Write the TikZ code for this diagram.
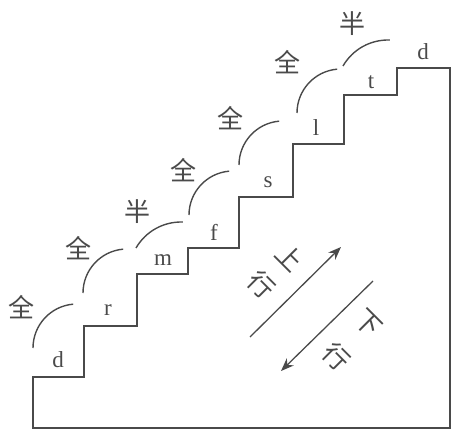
\documentclass[tikz,border=0pt]{standalone}
\usepackage{fontspec}
\newfontfamily\cjk{Noto Sans CJK SC}
\newfontfamily\lat{Liberation Serif}
\usetikzlibrary{arrows.meta}
\definecolor{ink}{HTML}{4A4A4A}
\tikzset{wall/.style={draw=ink,line width=1.5pt,line join=miter},bow/.style={draw=ink,line width=1.4pt},
zh/.style={text=ink,font=\cjk\fontsize{26}{26}\selectfont,inner sep=0pt},
lt/.style={text=ink,font=\lat\fontsize{23}{23}\selectfont,inner sep=0pt},
arr/.style={-{Stealth[length=13pt,width=10pt]},draw=ink,line width=1.3pt}}
\begin{document}
\begin{tikzpicture}[x=1pt,y=1pt]
\useasboundingbox(0,0)rectangle(452,429);
% stairs
\draw[wall](33,1)--(33,52)--(84,52)--(84,103)--(137,103)--(137,155)--(188,155)--(188,181)--(239,181)--(239,232)
--(293,232)--(293,285)--(344,285)--(344,334)--(397,334)--(397,361)--(450,361)--(450,1)--cycle;
% full and half strides
\foreach\x/\y in{33/81,83/136,189/214,239/264,297/316}\draw[bow](\x,\y)arc[start angle=180,end angle=95,radius=44];
\foreach\x/\y in{136/181,343/363}\draw[bow](\x,\y)arc[start angle=150,end angle=88,radius=52];
\foreach\n/\x/\y/\t in{q1/22/122/全,q2/78/181/全,b1/137/217/半,q3/183/259/全,q4/230/311/全,q5/287/367/全,b2/352/405/半}
\node[zh](\n)at(\x,\y){\t};
\foreach\n/\x/\y/\t in{sd/58/69/d,sr/108/119/r,sm/163/169/m,sf/214/197/f,ss/268/247/s,sl/316/301/l,st/371/347/t,se/423/377/d}
\node[lt](\n)at(\x,\y){\t};
% directions
\coordinate(up1)at(250,92);\coordinate(up2)at(341,182);
\coordinate(dn1)at(373,148);\coordinate(dn2)at(281,58);
\draw[arr](up1)--(up2);\draw[arr](dn1)--(dn2);
\node[zh,rotate=-45](shang)at(290,172){上};\node[zh,rotate=-45](xing1)at(262,144){行};
\node[zh,rotate=-45](xia)at(368,106){下};\node[zh,rotate=-45](xing2)at(337,72){行};
\end{tikzpicture}
\end{document}
